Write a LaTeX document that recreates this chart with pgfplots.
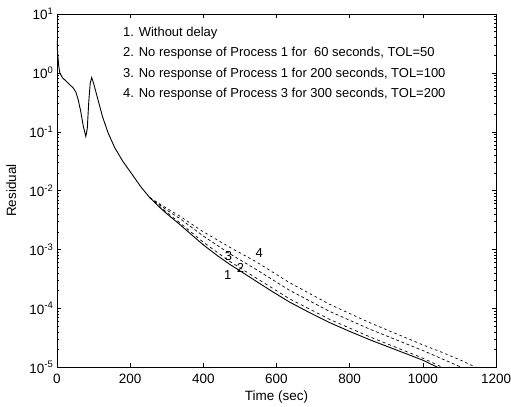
\documentclass[border=0pt]{standalone}
\usepackage{fontspec}
\setmainfont{Liberation Sans}
\usepackage{pgfplots}
\pgfplotsset{compat=1.18}

\begin{document}
\begin{tikzpicture}[font=\fontsize{13}{15}\selectfont]
\useasboundingbox (-57pt,-39pt) rectangle (455pt,368pt);
\begin{axis}[
    at={(0,0)}, anchor=south west,
    scale only axis,
    width=440pt, height=354pt,
    ymode=log,
    xmin=0, xmax=1200,
    ymin=1e-5, ymax=10,
    xtick={0,200,...,1200},
    ytick={1e-5,1e-4,1e-3,1e-2,1e-1,1,10},
    yticklabels={10\textsuperscript{-5},10\textsuperscript{-4},10\textsuperscript{-3},10\textsuperscript{-2},10\textsuperscript{-1},10\textsuperscript{0},10\textsuperscript{1}},
    /pgf/number format/assume math mode=true,
    /pgf/number format/1000 sep={},
    tick label style={font=\fontsize{13.5}{15}\selectfont},
    xticklabel style={yshift=-3pt},
    label style={font=\fontsize{13.5}{15}\selectfont},
    xlabel={Time (sec)},
    ylabel={Residual},
    xlabel style={at={(axis description cs:0.5,-0.085)}, anchor=center},
    ylabel style={at={(axis description cs:-0.104,0.5)}, anchor=center},
    tick style={black, thin},
    major tick length=4pt,
    minor tick length=2pt,
    axis line style={thin},
    every axis plot/.append style={black, line width=0.7pt},
]
% 1. Without delay
\addplot[solid, line width=0.9pt] coordinates {
(0,3.548) (2,2.239) (5,1.318) (8,1.0) (15,0.832) (25,0.724) (35,0.631)
(45,0.550) (52,0.468) (58,0.355) (65,0.224) (72,0.126) (79,0.0832)
(83,0.112) (87,0.316) (91,0.661) (95,0.832) (100,0.676) (112,0.355)
(125,0.178) (140,0.0955) (158,0.0537) (180,0.0316) (205,0.0191)
(230,0.01148) (254,0.00759) (280,0.00525) (300,0.00407) (335,0.00269)
(370,0.00174) (400,0.00120) (440,7.76e-4) (472,5.62e-4) (510,3.98e-4)
(545,2.88e-4) (590,1.91e-4) (635,1.29e-4) (690,8.51e-5) (745,5.75e-5)
(800,4.07e-5) (854,2.95e-5) (900,2.29e-5) (950,1.74e-5) (1000,1.32e-5)
(1040,1.0e-5)
};
% 2. Process 1, 60 s
\addplot[dashed] coordinates {
(254,7.59e-3) (300,4.27e-3) (335,2.88e-3) (400,1.334e-3) (472,6.31e-4)
(545,3.27e-4) (635,1.462e-4) (745,6.53e-5) (854,3.31e-5) (950,1.905e-5)
(1000,1.429e-5) (1053,1.0e-5)
};
% 3. Process 1, 200 s
\addplot[dash pattern=on 3pt off 2.5pt] coordinates {
(254,7.59e-3) (300,4.68e-3) (335,3.39e-3) (400,1.698e-3) (472,8.51e-4)
(545,4.57e-4) (635,2.04e-4) (745,8.91e-5) (854,4.47e-5) (950,2.57e-5)
(1000,1.928e-5) (1050,1.413e-5) (1105,1.0e-5)
};
% 4. Process 3, 300 s
\addplot[dash pattern=on 2.5pt off 3pt] coordinates {
(254,7.59e-3) (300,5.01e-3) (335,3.72e-3) (400,2.00e-3) (472,1.096e-3)
(545,6.17e-4) (635,2.75e-4) (745,1.175e-4) (854,5.75e-5) (950,3.24e-5)
(1000,2.40e-5) (1050,1.82e-5) (1100,1.35e-5) (1145,1.0e-5)
};
\node[anchor=west] at (rel axis cs:0.143,0.946) {1. Without delay};
\node[anchor=west] at (rel axis cs:0.143,0.890) {2. No response of Process 1 for \ 60 seconds, TOL=50};
\node[anchor=west] at (rel axis cs:0.143,0.831) {3. No response of Process 1 for 200 seconds, TOL=100};
\node[anchor=west] at (rel axis cs:0.143,0.774) {4. No response of Process 3 for 300 seconds, TOL=200};
\node at (rel axis cs:0.389,0.260) {1};
\node at (rel axis cs:0.418,0.282) {2};
\node at (rel axis cs:0.391,0.314) {3};
\node at (rel axis cs:0.461,0.322) {4};
\end{axis}
\end{tikzpicture}
\end{document}
